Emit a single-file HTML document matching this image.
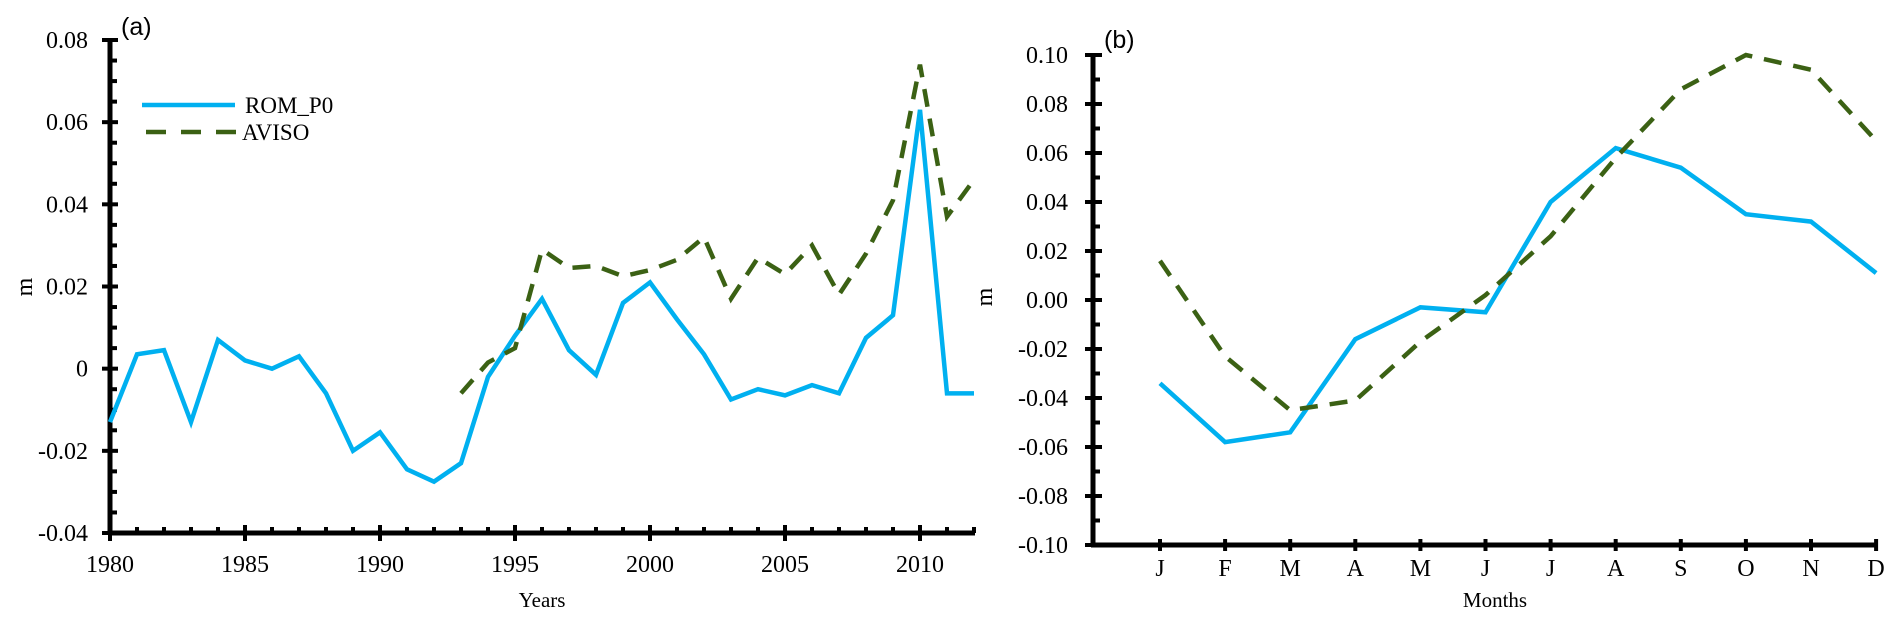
<!DOCTYPE html>
<html><head><meta charset="utf-8"><style>
body{margin:0;background:#fff;width:1902px;height:623px;overflow:hidden}
svg{display:block}
text{font-family:"Liberation Serif",serif;fill:#000}
</style></head><body>
<svg id="c" width="1902" height="623"></svg>
<script>
const yearsA=[1980,1981,1982,1983,1984,1985,1986,1987,1988,1989,1990,1991,1992,1993,1994,1995,1996,1997,1998,1999,2000,2001,2002,2003,2004,2005,2006,2007,2008,2009,2010,2011,2012];
const romA=[-0.013,0.0035,0.0045,-0.013,0.007,0.002,0,0.003,-0.006,-0.020,-0.0155,-0.0245,-0.0275,-0.023,-0.002,0.008,0.017,0.0045,-0.0015,0.016,0.021,0.012,0.0035,-0.0075,-0.005,-0.0065,-0.004,-0.006,0.0075,0.013,0.063,-0.006,-0.006];
const avisoYearsA=[1993,1994,1995,1996,1997,1998,1999,2000,2001,2002,2003,2004,2005,2006,2007,2008,2009,2010,2011,2012];
const avisoA=[-0.006,0.0015,0.005,0.029,0.0245,0.025,0.0225,0.024,0.0265,0.032,0.017,0.027,0.023,0.030,0.018,0.028,0.041,0.074,0.037,0.046];
const yTicksA=[0.08,0.06,0.04,0.02,0,-0.02,-0.04];
const yTickLabelsA=["0.08","0.06","0.04","0.02","0","-0.02","-0.04"];
const xTicksA=[1980,1985,1990,1995,2000,2005,2010];
const months=["J","F","M","A","M","J","J","A","S","O","N","D"];
const romB=[-0.034,-0.058,-0.054,-0.016,-0.003,-0.005,0.040,0.062,0.054,0.035,0.032,0.011];
const avisoB=[0.016,-0.023,-0.045,-0.041,-0.017,0.002,0.026,0.058,0.086,0.100,0.094,0.065];
const yTicksB=[0.10,0.08,0.06,0.04,0.02,0,-0.02,-0.04,-0.06,-0.08,-0.10];
const yTickLabelsB=["0.10","0.08","0.06","0.04","0.02","0.00","-0.02","-0.04","-0.06","-0.08","-0.10"];

const svg=document.getElementById('c');
const NS='http://www.w3.org/2000/svg';
function mk(tag,attrs,parent){const e=document.createElementNS(NS,tag);for(const k in attrs)e.setAttribute(k,attrs[k]);(parent||svg).appendChild(e);return e;}
const BLUE='#00b0f0',GREEN='#3b6114';

const xA=y=>110+(y-1980)*27;
const yA=v=>40+(0.08-v)/0.12*493;
const xB=i=>1160+i*65.1;
const yB=v=>55+(0.10-v)/0.20*490;

const gA=mk('g',{});


mk('line',{x1:110,y1:38,x2:110,y2:535,stroke:'#000','stroke-width':5},gA);
mk('line',{x1:108,y1:533,x2:975,y2:533,stroke:'#000','stroke-width':5},gA);
for(let v=-0.04;v<=0.0801;v+=0.005){
  const y=yA(v);const major=Math.abs(Math.round(v*1000)%20)<1;
  mk('line',{x1:major?102:110,y1:y,x2:major?118:117,y2:y,stroke:'#000','stroke-width':4},gA);
}
for(let yr=1980;yr<=2012;yr++){
  const x=xA(yr);const major=yr%5===0;
  mk('line',{x1:x,y1:major?525:527,x2:x,y2:major?541:533,stroke:'#000','stroke-width':4},gA);
}
yTicksA.forEach((v,i)=>{const t=mk('text',{x:88,y:yA(v)+8,'text-anchor':'end','font-size':24},gA);t.textContent=yTickLabelsA[i];
 });
xTicksA.forEach(v=>{const t=mk('text',{x:xA(v),y:572,'text-anchor':'middle','font-size':24},gA);t.textContent=v;
 });
let t=mk('text',{x:xA(1996),y:607,'text-anchor':'middle','font-size':21},gA);t.textContent='Years';

t=mk('text',{x:0,y:0,'text-anchor':'middle','font-size':24,transform:'translate(32,287) rotate(-90)'},gA);t.textContent='m';

t=mk('text',{x:121,y:35,'font-size':25,style:'font-family:"Liberation Sans",sans-serif'},gA);t.textContent='(a)';


let p=mk('polyline',{points:romA.map((v,i)=>xA(yearsA[i])+','+yA(v)).join(' '),fill:'none',stroke:BLUE,'stroke-width':4.5},gA);

p=mk('polyline',{points:avisoA.map((v,i)=>xA(avisoYearsA[i])+','+yA(v)).join(' '),fill:'none',stroke:GREEN,'stroke-width':4.5,'stroke-dasharray':'18,12'},gA);


const lg=mk('g',{},gA);

mk('line',{x1:142,y1:105,x2:235,y2:105,stroke:BLUE,'stroke-width':4.5},lg);
t=mk('text',{x:245,y:113,'font-size':23},lg);t.textContent='ROM_P0';

mk('line',{x1:146,y1:132,x2:236,y2:132,stroke:GREEN,'stroke-width':4.5,'stroke-dasharray':'20,15'},lg);
t=mk('text',{x:242,y:140,'font-size':23},lg);t.textContent='AVISO';


const gB=mk('g',{});


mk('line',{x1:1093,y1:53,x2:1093,y2:547,stroke:'#000','stroke-width':5},gB);
mk('line',{x1:1091,y1:545,x2:1878,y2:545,stroke:'#000','stroke-width':5},gB);
for(let k=0;k<=20;k++){
  const v=0.10-k*0.01;const y=yB(v);const major=k%2===0;
  mk('line',{x1:major?1085:1093,y1:y,x2:major?1102:1100,y2:y,stroke:'#000','stroke-width':4},gB);
}
months.forEach((m,i)=>{
  mk('line',{x1:xB(i),y1:539,x2:xB(i),y2:551,stroke:'#000','stroke-width':4},gB);
  const tt=mk('text',{x:xB(i),y:576,'text-anchor':'middle','font-size':24},gB);tt.textContent=m;
  
});
yTicksB.forEach((v,i)=>{const tt=mk('text',{x:1068,y:yB(v)+8,'text-anchor':'end','font-size':24},gB);tt.textContent=yTickLabelsB[i];
 });
t=mk('text',{x:1495,y:607,'text-anchor':'middle','font-size':21},gB);t.textContent='Months';

t=mk('text',{x:0,y:0,'text-anchor':'middle','font-size':24,transform:'translate(992,297) rotate(-90)'},gB);t.textContent='m';

t=mk('text',{x:1104,y:48,'font-size':25,style:'font-family:"Liberation Sans",sans-serif'},gB);t.textContent='(b)';


p=mk('polyline',{points:romB.map((v,i)=>xB(i)+','+yB(v)).join(' '),fill:'none',stroke:BLUE,'stroke-width':4.5},gB);

p=mk('polyline',{points:avisoB.map((v,i)=>xB(i)+','+yB(v)).join(' '),fill:'none',stroke:GREEN,'stroke-width':4.5,'stroke-dasharray':'18,12'},gB);

</script>
</body></html>
